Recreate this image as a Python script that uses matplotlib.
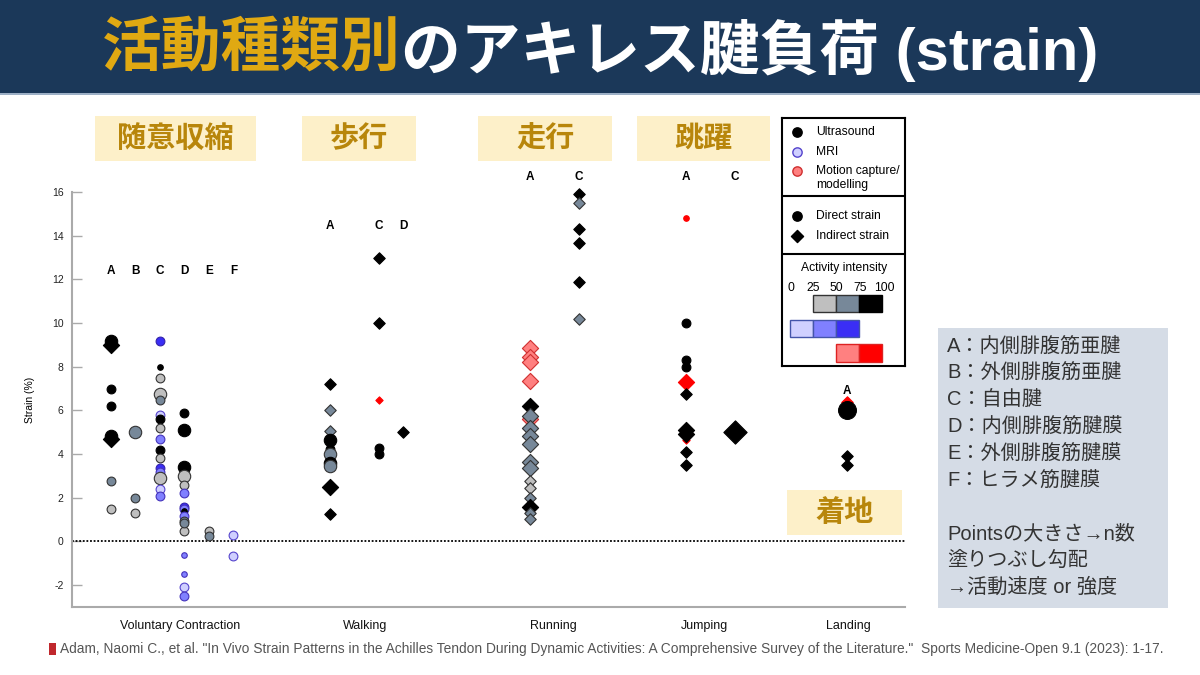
import numpy as np
import matplotlib.pyplot as plt
from matplotlib.patches import Rectangle

plt.rcParams['font.family'] = ['Liberation Sans', 'Noto Sans CJK JP', 'DejaVu Sans']
plt.rcParams['axes.unicode_minus'] = False

# --- categories / layout of the columns ---
activities = ['Voluntary Contraction', 'Walking', 'Running', 'Jumping', 'Landing']
activities_jp = ['随意収縮', '歩行', '走行', '跳躍', '着地']
group_start = [111, 330, 530, 686, 847]
label_x = [180, 365, 553, 704, 848]
letter_step = 24.5
letters_shown = [['A', 'B', 'C', 'D', 'E', 'F'], ['A', 'C', 'D'], ['A', 'C'], ['A', 'C'], ['A']]
letter_y = [12.4, 14.45, 16.7, 16.7, 6.9]
yticks = [-2, 0, 2, 4, 6, 8, 10, 12, 14, 16]

# --- data: region, strain (%), colour code, marker, size code ---
vol_region = ['A', 'A', 'A', 'A', 'A', 'A', 'A', 'A',
              'B', 'B', 'B',
              'C', 'C', 'C', 'C', 'C', 'C', 'C', 'C', 'C', 'C', 'C', 'C', 'C', 'C', 'C', 'C',
              'D', 'D', 'D', 'D', 'D', 'D', 'D', 'D', 'D', 'D', 'D', 'D', 'D', 'D', 'D', 'D', 'D',
              'E', 'E', 'F', 'F']
vol_strain = [9.0, 9.2, 7.0, 6.2, 4.7, 4.85, 2.75, 1.5,
              5.0, 2.0, 1.3,
              9.2, 8.0, 7.5, 6.75, 6.5, 5.8, 5.6, 5.2, 4.7, 4.2, 3.8, 3.35, 3.2, 2.9, 2.4, 2.1,
              5.9, 5.1, 3.4, 3.0, 2.6, 2.2, 1.6, 1.5, 1.4, 1.15, 0.95, 0.5, -0.6, -1.5, -2.1, -2.5, 0.85,
              0.5, 0.25, 0.3, -0.65]
vol_colour = ['g3', 'g3', 'g3', 'g3', 'g3', 'g3', 'g2', 'g1',
              'g2', 'g2', 'g1',
              'b3', 'g3', 'g1', 'g1', 'g2', 'b1', 'g3', 'g1', 'b2', 'g3', 'g1', 'b3', 'b2', 'g1', 'b1', 'b2',
              'g3', 'g3', 'g3', 'g1', 'g1', 'b2', 'b3', 'b2', 'g3', 'b2', 'g2', 'g1', 'b2', 'b2', 'b1', 'b2', 'g2',
              'g1', 'g2', 'b1', 'b1']
vol_marker = ['D', 'o', 'o', 'o', 'D', 'o', 'o', 'o',
              'o', 'o', 'o',
              'o', 'o', 'o', 'o', 'o', 'o', 'o', 'o', 'o', 'o', 'o', 'o', 'o', 'o', 'o', 'o',
              'o', 'o', 'o', 'o', 'o', 'o', 'o', 'o', 'o', 'o', 'o', 'o', 'o', 'o', 'o', 'o', 'o',
              'o', 'o', 'o', 'o']
vol_size = ['L', 'L', 'M', 'M', 'L', 'L', 'M', 'M',
            'L', 'M', 'M',
            'M', 'S', 'M', 'L', 'M', 'M', 'M', 'M', 'M', 'M', 'M', 'M', 'M', 'L', 'M', 'M',
            'M', 'L', 'L', 'L', 'M', 'M', 'M', 'M', 'S', 'M', 'M', 'M', 'S', 'S', 'M', 'M', 'M',
            'M', 'M', 'M', 'M']

walk_region = ['A', 'A', 'A', 'A', 'A', 'A', 'A', 'A', 'A', 'A',
               'C', 'C', 'C', 'C', 'C', 'D']
walk_strain = [7.2, 6.0, 5.05, 4.65, 4.25, 4.0, 3.6, 3.45, 2.5, 1.25,
               13.0, 10.0, 6.5, 4.3, 4.0, 5.0]
walk_colour = ['g3', 'g2', 'g2', 'g3', 'g3', 'g2', 'g3', 'g2', 'g3', 'g3',
               'g3', 'g3', 'r2', 'g3', 'g3', 'g3']
walk_marker = ['D', 'D', 'D', 'o', 'o', 'o', 'o', 'o', 'D', 'D',
               'D', 'D', 'D', 'o', 'o', 'D']
walk_size = ['M', 'M', 'M', 'L', 'M', 'L', 'L', 'L', 'L', 'M',
             'M', 'M', 'S', 'M', 'M', 'M']

run_region = ['A'] * 18 + ['C'] * 6
run_strain = [8.85, 8.45, 8.2, 7.35, 5.6, 6.2, 5.75, 5.2, 4.85, 4.45, 3.65, 3.35, 2.75, 2.45, 2.0, 1.6, 1.3, 1.05,
              15.9, 15.5, 14.3, 13.65, 11.9, 10.2]
run_colour = ['r1', 'r1', 'r1', 'r1', 'r1', 'g3', 'g2', 'g2', 'g2', 'g2', 'g2', 'g2', 'g1', 'g1', 'g2', 'g3', 'g2', 'g2',
              'g3', 'g2', 'g3', 'g3', 'g3', 'g2']
run_marker = ['D'] * 24
run_size = ['L', 'L', 'L', 'L', 'L', 'L', 'L', 'L', 'L', 'L', 'L', 'L', 'M', 'M', 'M', 'L', 'M', 'M',
            'M', 'M', 'M', 'M', 'M', 'M']

jump_region = ['A'] * 11 + ['C']
jump_strain = [14.8, 10.0, 8.3, 8.0, 7.3, 6.75, 4.65, 5.1, 4.9, 4.1, 3.5, 5.0]
jump_colour = ['r2', 'g3', 'g3', 'g3', 'r2', 'g3', 'r2', 'g3', 'g3', 'g3', 'g3', 'g3']
jump_marker = ['o', 'o', 'o', 'o', 'D', 'D', 'D', 'D', 'D', 'D', 'D', 'D']
jump_size = ['S', 'M', 'M', 'M', 'L', 'M', 'S', 'L', 'L', 'M', 'M', 'XL']

land_region = ['A', 'A', 'A', 'A']
land_strain = [6.4, 6.0, 3.9, 3.5]
land_colour = ['r2', 'g3', 'g3', 'g3']
land_marker = ['D', 'o', 'D', 'D']
land_size = ['M', 'XL', 'M', 'M']

series = [
    (vol_region, vol_strain, vol_colour, vol_marker, vol_size),
    (walk_region, walk_strain, walk_colour, walk_marker, walk_size),
    (run_region, run_strain, run_colour, run_marker, run_size),
    (jump_region, jump_strain, jump_colour, jump_marker, jump_size),
    (land_region, land_strain, land_colour, land_marker, land_size),
]

FILL = {'g1': '#bfbfbf', 'g2': '#778899', 'g3': '#000000',
        'b1': '#cfcfff', 'b2': '#8080ff', 'b3': '#3a2ef5',
        'r1': '#ff8080', 'r2': '#ff0000'}
EDGE = {'g1': '#333333', 'g2': '#333333', 'g3': '#000000',
        'b1': '#5544cc', 'b2': '#4433bb', 'b3': '#3322aa',
        'r1': '#d03030', 'r2': '#ff0000'}
SIZE = {'S': 16, 'M': 40, 'L': 80, 'XL': 165}
DSCALE = 0.85  # 'D' markers draw larger than circles at equal s

fig = plt.figure(figsize=(12, 6.75), dpi=100)

# --- main axes ---
ax = fig.add_axes([72 / 1200, 1 - 607 / 675, (905 - 72) / 1200, (607 - 192) / 675])
ax.set_facecolor('none')
ax.set_xlim(72, 905)
ax.set_ylim(-3, 16)

letters = 'ABCDEF'
for gi, (reg, strain, colour, marker, size) in enumerate(series):
    xs = [group_start[gi] + letters.index(r) * letter_step for r in reg]
    for x, y, c, m, s in zip(xs, strain, colour, marker, size):
        ss = SIZE[s] * (DSCALE if m == 'D' else 1.0)
        ax.scatter(x, y, s=ss, marker=m, facecolor=FILL[c], edgecolor=EDGE[c],
                   linewidth=0.8, zorder=3, clip_on=False)
    for L in letters_shown[gi]:
        ax.text(group_start[gi] + letters.index(L) * letter_step, letter_y[gi], L,
                ha='center', va='center', fontsize=8.5, fontweight='bold', clip_on=False)

ax.axhline(0, color='black', linestyle=(0, (1, 1)), linewidth=1.3, zorder=2)

for sp in ['top', 'right']:
    ax.spines[sp].set_visible(False)
for sp in ['left', 'bottom']:
    ax.spines[sp].set_color('#aaaaaa')
    ax.spines[sp].set_linewidth(1.5)
ax.set_yticks(yticks)
ax.tick_params(axis='y', direction='in', length=7, width=1, color='#aaaaaa',
               labelsize=7.5, labelcolor='#222222', pad=6)
ax.set_xticks(label_x)
ax.set_xticklabels(activities, fontsize=9)
ax.tick_params(axis='x', length=0, pad=9, labelcolor='#111111')
ax.set_ylabel('Strain (%)', fontsize=7.5, labelpad=12)

# --- legend box ---
lg = fig.add_axes([782 / 1200, 1 - 366 / 675, 123 / 1200, 248 / 675])
lg.set_xlim(0, 123)
lg.set_ylim(248, 0)
lg.set_xticks([])
lg.set_yticks([])
for sp in lg.spines.values():
    sp.set_linewidth(1.5)
lg.axhline(78, color='black', linewidth=1.5)
lg.axhline(136, color='black', linewidth=1.5)
lg_fs = 8.7
lg.scatter([15], [14], s=45, color='black')
lg.scatter([15], [34], s=45, facecolor='#cfcfff', edgecolor='#5544cc', linewidth=1)
lg.scatter([15], [53], s=45, facecolor='#ff8080', edgecolor='#d03030', linewidth=1)
lg.text(34, 14, 'Ultrasound', va='center', fontsize=lg_fs)
lg.text(34, 34, 'MRI', va='center', fontsize=lg_fs)
lg.text(34, 53, 'Motion capture/', va='center', fontsize=lg_fs)
lg.text(34, 67, 'modelling', va='center', fontsize=lg_fs)
lg.scatter([15], [98], s=45, color='black')
lg.scatter([15], [118], s=38, marker='D', color='black')
lg.text(34, 98, 'Direct strain', va='center', fontsize=lg_fs)
lg.text(34, 118, 'Indirect strain', va='center', fontsize=lg_fs)
lg.text(62, 150, 'Activity intensity', ha='center', va='center', fontsize=lg_fs)
for v, xx in zip([0, 25, 50, 75, 100], [9, 31, 54, 78, 102]):
    lg.text(xx, 170, str(v), ha='center', va='center', fontsize=lg_fs)
for x0, c, e in [(31, '#bfbfbf', '#333333'), (54, '#778899', '#333333'), (77, '#000000', '#000000')]:
    lg.add_patch(Rectangle((x0, 177), 23, 17, facecolor=c, edgecolor=e, linewidth=1))
for x0, c in [(8, '#d0d0ff'), (31, '#8080ff'), (54, '#3a2ef5')]:
    lg.add_patch(Rectangle((x0, 202), 23, 17, facecolor=c, edgecolor='#4455aa', linewidth=1))
for x0, c in [(54, '#ff8080'), (77, '#ff0000')]:
    lg.add_patch(Rectangle((x0, 226), 23, 18, facecolor=c, edgecolor='#dd2222', linewidth=1))

# --- overlay for title band, boxes and notes (pixel coordinates) ---
ov = fig.add_axes([0, 0, 1, 1], zorder=5)
ov.set_facecolor('none')
ov.set_xlim(0, 1200)
ov.set_ylim(675, 0)
ov.axis('off')
ov.add_patch(Rectangle((0, 0), 1200, 93, facecolor='#1b3859', edgecolor='none'))
ov.add_patch(Rectangle((0, 93), 1200, 2, facecolor='#9db0c6', edgecolor='none'))

title_kw = dict(fontsize=43, fontweight='bold',
                family=['Liberation Sans', 'Noto Sans CJK JP', 'DejaVu Sans'], va='center')
t1 = ov.text(105, 50, '活動種類別', color='#e0a912', **title_kw)
t2 = ov.text(0, 50, 'のアキレス腱負荷 (strain)', color='white', **title_kw)
fig.canvas.draw()
r = fig.canvas.get_renderer()
w1 = t1.get_window_extent(r).width
w2 = t2.get_window_extent(r).width
x_start = 600 - (w1 + w2) / 2
t1.set_x(x_start)
t2.set_x(x_start + w1)

box_fill = '#fdf0c9'
box_text = '#b8860b'
jp_boxes = [(95, 116, 161, 45), (302, 116, 114, 45), (478, 116, 134, 45), (637, 116, 133, 45), (787, 490, 115, 45)]
for (bx, by, bw, bh), txt in zip(jp_boxes, activities_jp):
    ov.add_patch(Rectangle((bx, by), bw, bh, facecolor=box_fill, edgecolor='none'))
    ov.text(bx + bw / 2, by + bh / 2, txt, ha='center', va='center', fontsize=21,
            fontweight='bold', color=box_text, family=['Noto Sans CJK JP', 'DejaVu Sans'])

# notes box
ov.add_patch(Rectangle((938, 328), 230, 280, facecolor='#d5dce6', edgecolor='none'))
notes = ['A：内側腓腹筋亜腱', 'B：外側腓腹筋亜腱', 'C：自由腱', 'D：内側腓腹筋腱膜',
         'E：外側腓腹筋腱膜', 'F：ヒラメ筋腱膜', '',
         'Pointsの大きさ→n数', '塗りつぶし勾配', '→活動速度 or 強度']
for i, line in enumerate(notes):
    ov.text(947, 346 + i * 26.8, line, ha='left', va='center', fontsize=14.5, color='#333333',
            family=['Liberation Sans', 'Noto Sans CJK JP', 'DejaVu Sans'])

# citation
ov.add_patch(Rectangle((49, 643), 7, 12, facecolor='#c0282d', edgecolor='none'))
ov.text(60, 649, 'Adam, Naomi C., et al. "In Vivo Strain Patterns in the Achilles Tendon During Dynamic '
        'Activities: A Comprehensive Survey of the Literature."  Sports Medicine-Open 9.1 (2023): 1-17.',
        ha='left', va='center', fontsize=9.9, color='#555555',
        family=['Liberation Sans Narrow', 'Liberation Sans', 'DejaVu Sans'])

fig.savefig('out.png', dpi=100)
